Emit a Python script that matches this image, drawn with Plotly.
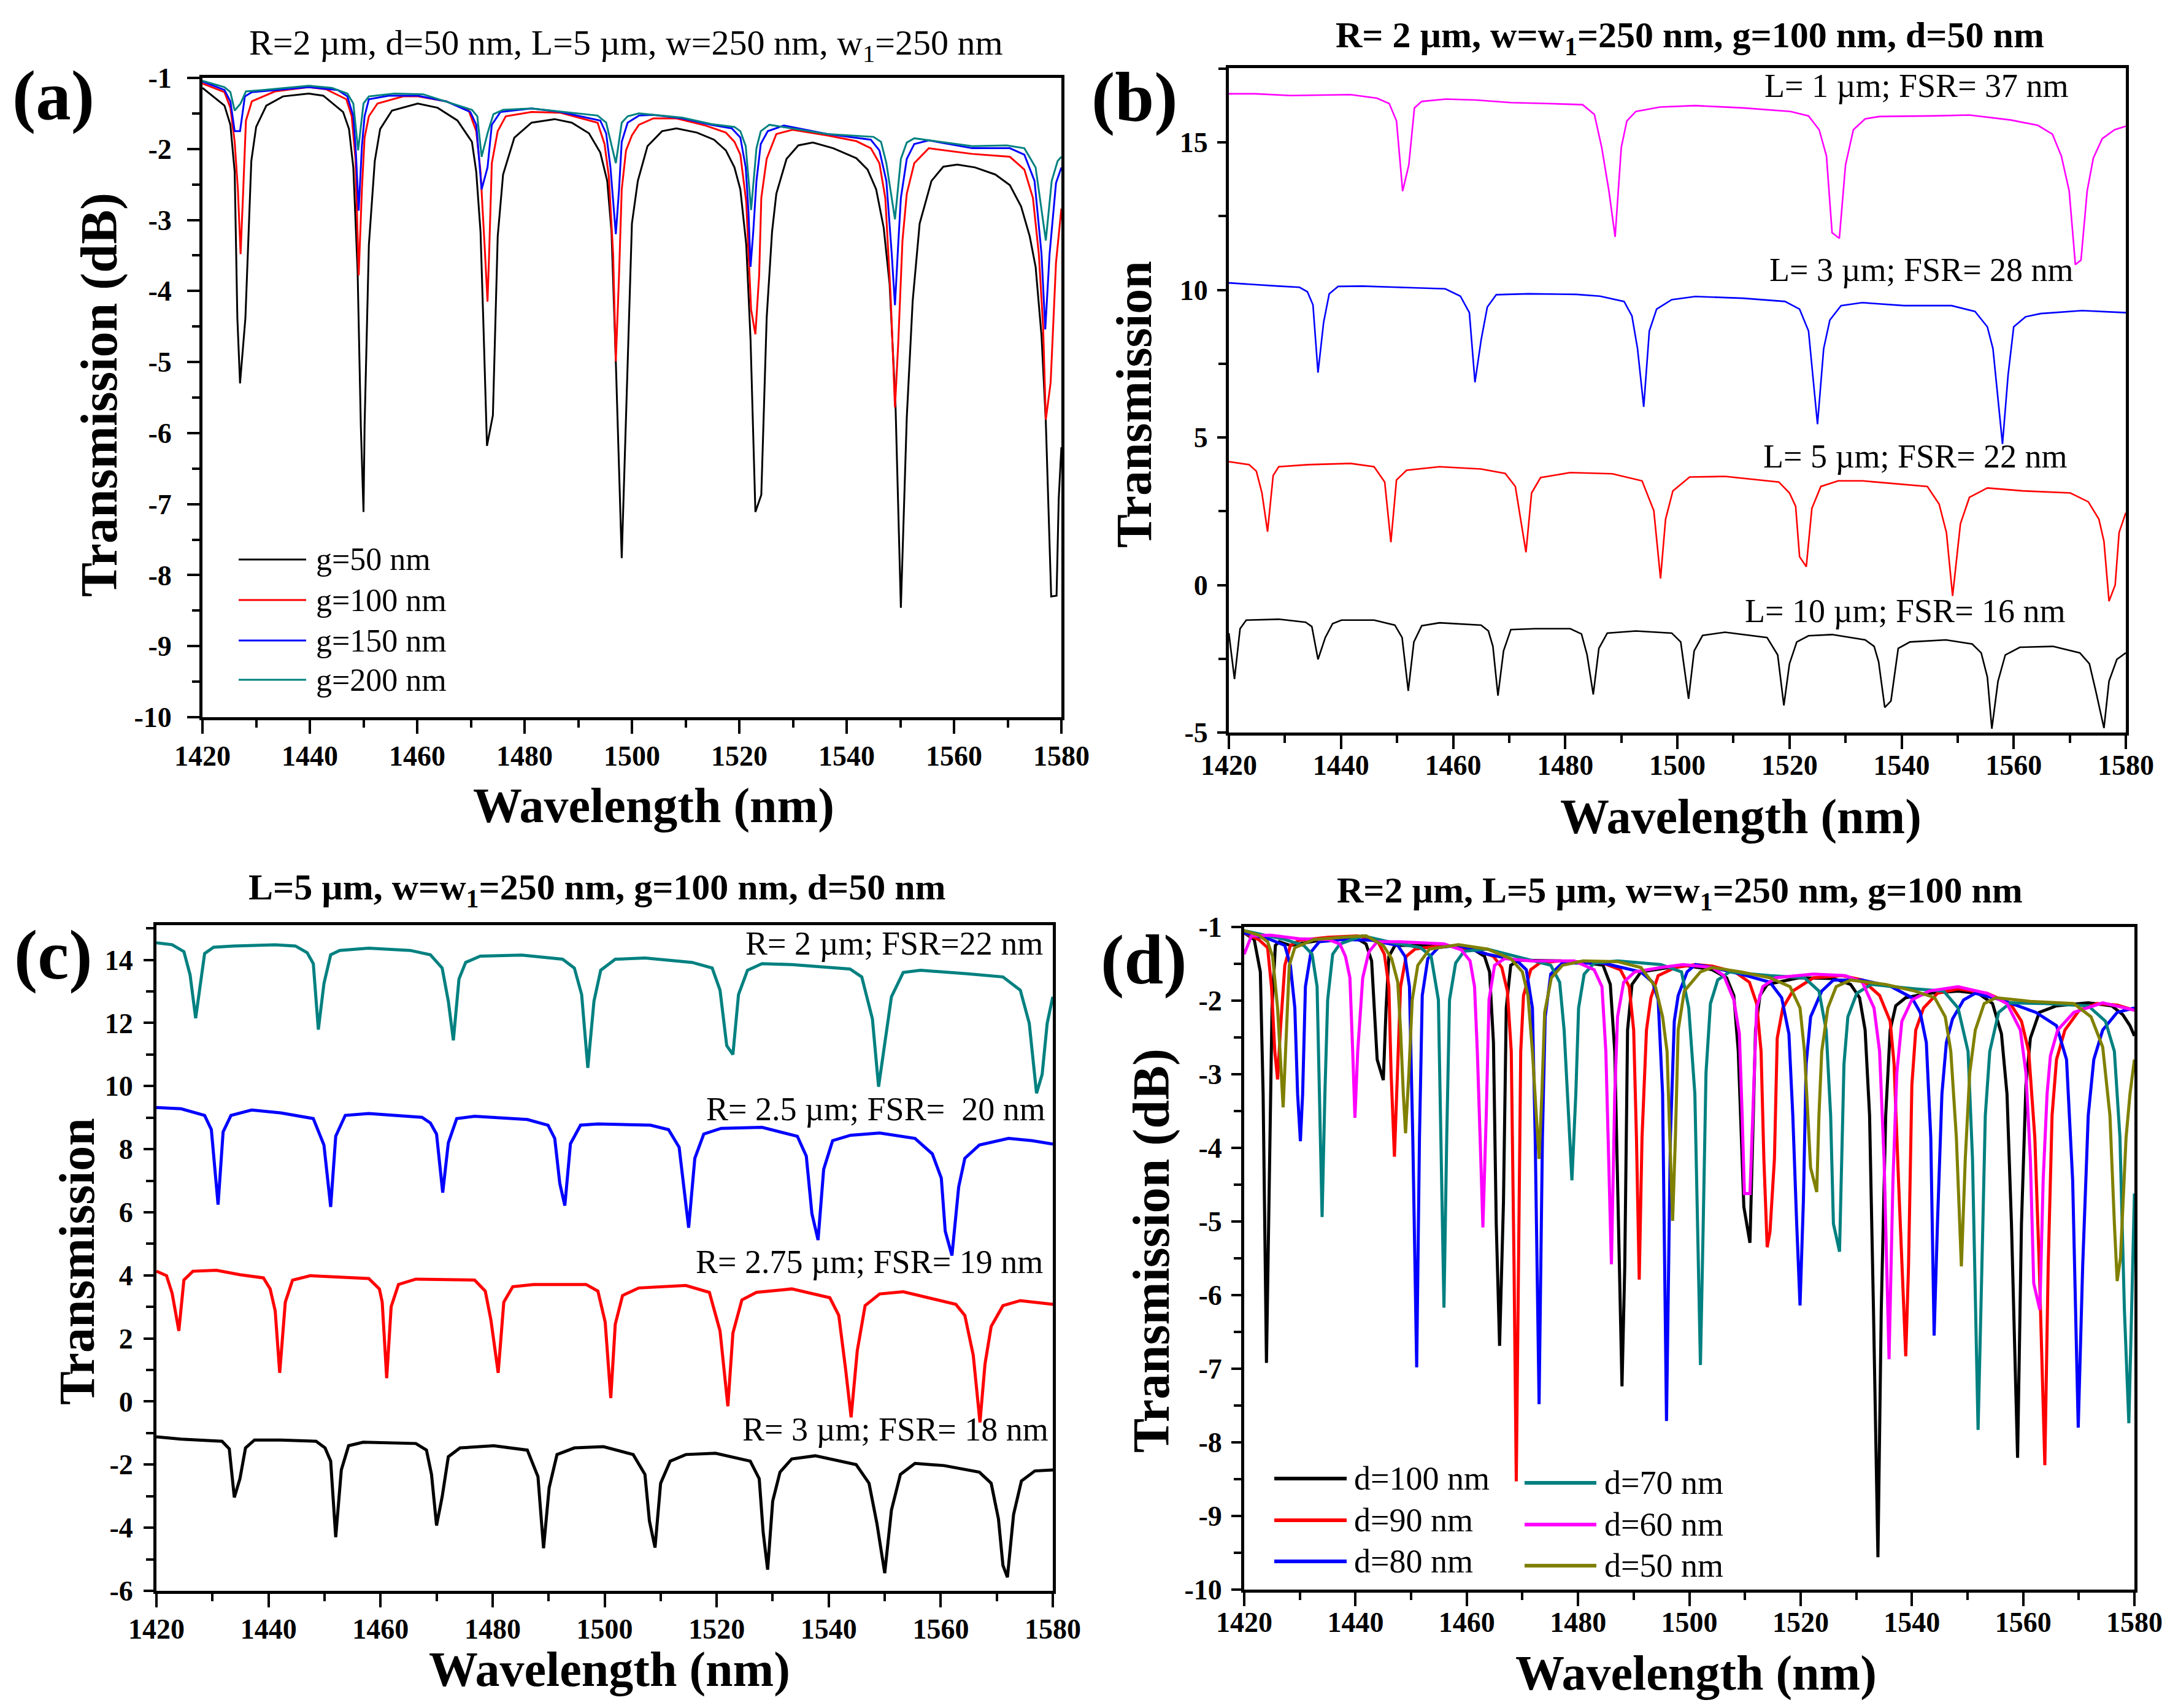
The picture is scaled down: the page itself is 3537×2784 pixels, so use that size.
import plotly.graph_objects as go

# ---------------- DATA ----------------
# Panel (a): transmission (dB) vs wavelength (nm) for gaps g
A_G50 = [(1420,-1.14),(1424.1,-1.39),(1425.2,-1.66),(1426.0,-2.32),(1426.5,-4.38),(1427.0,-5.30),(1428.0,-4.38),(1429.1,-2.17),(1430.0,-1.69),(1431.9,-1.39),(1435.0,-1.26),(1439.8,-1.22),(1442.5,-1.25),(1446.2,-1.48),(1447.3,-1.72),(1448.1,-2.26),(1448.9,-3.72),(1449.5,-5.90),(1450.0,-7.11),(1450.2,-5.90),(1451.0,-3.35),(1452.1,-2.17),(1453.1,-1.72),(1455.3,-1.46),(1460.1,-1.36),(1463.8,-1.42),(1467.5,-1.60),(1470.2,-1.90),(1471.0,-2.32),(1471.8,-3.17),(1472.3,-4.38),(1473.0,-6.18),(1474.1,-5.75),(1475.0,-3.23),(1476.0,-2.36),(1478.1,-1.84),(1481.3,-1.63),(1485.6,-1.58),(1488.8,-1.63),(1492.0,-1.78),(1494.1,-2.05),(1495.4,-2.45),(1496.2,-3.17),(1497.0,-4.99),(1498.1,-7.76),(1498.9,-5.84),(1500.0,-3.05),(1501.1,-2.45),(1502.9,-1.96),(1505.6,-1.75),(1508.3,-1.71),(1512.1,-1.77),(1515.3,-1.87),(1517.5,-2.02),(1519.1,-2.26),(1520.2,-2.57),(1521.3,-3.35),(1522.1,-4.69),(1523.0,-7.11),(1524.1,-6.87),(1525.1,-4.38),(1526.1,-3.17),(1526.9,-2.63),(1528.8,-2.14),(1531.0,-1.95),(1533.7,-1.91),(1537.5,-1.99),(1541.8,-2.13),(1543.9,-2.29),(1545.5,-2.57),(1546.9,-3.11),(1548.0,-3.90),(1549.1,-5.60),(1550.1,-8.46),(1551.2,-5.78),(1552.3,-4.14),(1553.6,-3.05),(1555.8,-2.45),(1558.0,-2.25),(1560.6,-2.22),(1563.9,-2.26),(1567.7,-2.36),(1570.4,-2.51),(1572.5,-2.81),(1574.1,-3.23),(1575.2,-3.66),(1576.3,-4.63),(1577.1,-5.84),(1578.1,-8.30),(1579.1,-8.29),(1579.5,-6.93),(1580.0,-6.20)]
A_G100 = [(1420,-1.08),(1424.1,-1.20),(1425.2,-1.42),(1426.0,-1.90),(1426.6,-2.57),(1427.1,-3.48),(1427.6,-2.57),(1428.1,-1.60),(1429.2,-1.33),(1433.5,-1.19),(1439.8,-1.13),(1443.0,-1.16),(1446.8,-1.30),(1447.8,-1.54),(1448.5,-2.14),(1449.1,-3.78),(1449.7,-2.57),(1450.2,-1.84),(1451.0,-1.54),(1452.6,-1.36),(1457.4,-1.26),(1460.1,-1.26),(1465.4,-1.33),(1469.6,-1.46),(1471.0,-1.75),(1471.8,-2.32),(1472.6,-3.42),(1473.1,-4.15),(1473.4,-3.48),(1473.9,-2.20),(1475.0,-1.75),(1476.5,-1.54),(1481.3,-1.48),(1486.7,-1.49),(1493.6,-1.63),(1494.9,-1.93),(1495.7,-2.39),(1496.5,-3.48),(1497.0,-4.99),(1497.6,-3.78),(1498.1,-2.57),(1498.9,-2.02),(1500.0,-1.81),(1501.3,-1.66),(1504.0,-1.57),(1508.3,-1.57),(1513.7,-1.67),(1517.5,-1.77),(1519.1,-1.90),(1520.2,-2.08),(1521.3,-2.75),(1522.2,-4.26),(1523.0,-4.61),(1523.7,-3.78),(1524.1,-2.69),(1525.1,-2.14),(1526.9,-1.79),(1529.9,-1.73),(1536.4,-1.81),(1541.8,-1.89),(1544.5,-1.99),(1546.1,-2.20),(1547.2,-2.69),(1548.2,-4.08),(1549.0,-5.64),(1549.6,-4.75),(1550.4,-3.29),(1551.2,-2.63),(1552.6,-2.20),(1555.3,-1.99),(1563.4,-2.07),(1570.4,-2.11),(1573.1,-2.29),(1574.7,-2.69),(1575.8,-3.48),(1576.6,-4.51),(1577.1,-5.81),(1578.0,-5.29),(1579.0,-3.60),(1580.0,-2.84)]
A_G150 = [(1420,-1.05),(1424.1,-1.17),(1425.2,-1.33),(1426.0,-1.75),(1427.0,-1.75),(1427.9,-1.26),(1429.2,-1.20),(1433.5,-1.17),(1439.8,-1.13),(1445.2,-1.17),(1447.0,-1.26),(1448.1,-1.54),(1448.6,-2.08),(1449.1,-2.87),(1449.7,-1.96),(1450.2,-1.54),(1451.0,-1.30),(1454.7,-1.25),(1460.1,-1.25),(1465.4,-1.33),(1469.9,-1.48),(1471.0,-1.66),(1471.5,-2.14),(1472.0,-2.57),(1473.1,-2.26),(1473.9,-1.66),(1475.5,-1.48),(1481.3,-1.43),(1486.7,-1.48),(1494.1,-1.60),(1495.2,-1.78),(1496.0,-2.26),(1497.0,-3.20),(1497.6,-2.57),(1498.1,-1.90),(1499.2,-1.63),(1501.3,-1.53),(1504.0,-1.52),(1509.4,-1.57),(1514.8,-1.66),(1518.6,-1.71),(1520.2,-1.84),(1521.2,-2.26),(1521.7,-2.87),(1522.1,-3.66),(1522.6,-3.17),(1523.2,-2.45),(1524.0,-1.93),(1525.3,-1.75),(1528.3,-1.67),(1536.4,-1.79),(1544.5,-1.87),(1546.1,-2.02),(1547.4,-2.45),(1548.4,-3.48),(1549.0,-4.20),(1549.6,-3.35),(1550.1,-2.69),(1551.2,-2.14),(1552.6,-1.93),(1555.3,-1.88),(1563.4,-1.99),(1570.4,-1.99),(1573.1,-2.08),(1575.0,-2.45),(1576.3,-3.48),(1577.0,-4.54),(1577.8,-3.48),(1579.0,-2.48),(1580.0,-2.26)]
A_G200 = [(1420,-1.04),(1424.1,-1.13),(1425.2,-1.20),(1426.0,-1.46),(1427.1,-1.36),(1428.1,-1.19),(1431.3,-1.17),(1439.8,-1.11),(1444.1,-1.14),(1447.0,-1.22),(1448.1,-1.36),(1449.0,-2.02),(1450.0,-1.36),(1451.0,-1.26),(1455.8,-1.22),(1461.1,-1.23),(1470.2,-1.45),(1471.2,-1.54),(1472.0,-2.11),(1473.1,-1.78),(1474.2,-1.51),(1476.0,-1.45),(1481.3,-1.43),(1493.6,-1.53),(1495.2,-1.63),(1497.0,-2.20),(1498.1,-1.63),(1499.2,-1.54),(1501.3,-1.50),(1509.4,-1.56),(1514.8,-1.65),(1519.1,-1.69),(1520.2,-1.75),(1521.2,-1.96),(1522.2,-2.86),(1523.2,-1.99),(1524.0,-1.75),(1525.6,-1.66),(1536.4,-1.79),(1545.0,-1.83),(1546.4,-1.90),(1547.4,-2.20),(1549.0,-2.99),(1550.1,-2.14),(1551.2,-1.91),(1552.6,-1.85),(1563.4,-1.96),(1569.8,-1.95),(1573.1,-1.99),(1575.2,-2.26),(1577.1,-3.29),(1578.2,-2.45),(1579.3,-2.17),(1580.0,-2.11)]
A_NAMES = ["g=50 nm", "g=100 nm", "g=150 nm", "g=200 nm"]

# Panel (b): transmission (offset) for L values
B_L1 = [(1420,16.65),(1424.7,16.65),(1431.0,16.59),(1441.7,16.62),(1446.4,16.50),(1448.6,16.32),(1449.9,15.73),(1451.0,13.35),(1452.1,14.24),(1453.1,16.17),(1454.4,16.39),(1458.7,16.47),(1464.0,16.44),(1470.3,16.35),(1476.7,16.32),(1483.1,16.28),(1485.2,15.95),(1486.5,14.84),(1487.8,13.35),(1488.9,11.80),(1490.0,14.84),(1491.0,15.73),(1492.6,16.05),(1496.9,16.20),(1503.2,16.25),(1511.7,16.17),(1520.2,16.05),(1523.4,15.90),(1525.3,15.43),(1526.6,14.54),(1527.6,11.94),(1528.9,11.75),(1530.0,14.24),(1531.4,15.43),(1533.5,15.80),(1536.1,15.88),(1545.7,15.90),(1552.1,15.93),(1559.5,15.76),(1564.3,15.58),(1566.9,15.28),(1568.5,14.54),(1569.9,13.35),(1571.0,10.86),(1572.0,11.01),(1573.1,13.35),(1574.2,14.47),(1575.8,15.13),(1578.0,15.43),(1580,15.55)]
B_L3 = [(1420,10.24),(1424.7,10.19),(1428.9,10.13),(1432.6,10.09),(1434.0,9.94),(1435.0,9.50),(1435.9,7.20),(1436.9,8.90),(1437.9,9.87),(1439.5,10.12),(1443.8,10.13),(1450.1,10.09),(1458.6,10.04),(1461.3,9.79),(1462.9,9.23),(1463.9,6.87),(1465.0,8.31),(1466.1,9.42),(1467.7,9.84),(1473.5,9.87),(1482.0,9.85),(1486.2,9.79),(1490.5,9.61),(1491.9,9.12),(1492.9,8.01),(1494.0,6.04),(1495.0,8.61),(1496.3,9.35),(1499.0,9.67),(1503.2,9.78),(1511.7,9.72),(1519.2,9.61),(1521.8,9.35),(1523.4,8.61),(1525.0,5.45),(1526.1,8.01),(1527.2,8.98),(1529.2,9.47),(1533.0,9.57),(1540.4,9.47),(1548.9,9.47),(1553.1,9.27),(1555.3,8.75),(1556.3,8.01),(1558.0,4.78),(1559.0,7.12),(1560.0,8.75),(1562.1,9.09),(1564.8,9.20),(1572.2,9.30),(1580,9.23)]
B_L5 = [(1420,4.18),(1423.6,4.08),(1424.9,3.86),(1425.9,3.12),(1426.9,1.81),(1427.9,3.71),(1428.9,4.01),(1434.2,4.08),(1441.7,4.12),(1445.9,4.01),(1447.8,3.49),(1448.9,1.45),(1449.9,3.56),(1451.7,3.89),(1457.6,4.01),(1465.0,3.93),(1469.3,3.78),(1471.1,3.34),(1473.0,1.11),(1474.0,3.12),(1475.6,3.64),(1480.9,3.81),(1488.4,3.77),(1493.7,3.53),(1495.8,2.52),(1497.0,0.22),(1497.9,2.23),(1499.2,3.19),(1502.2,3.66),(1508.5,3.68),(1518.1,3.49),(1520.0,3.12),(1521.1,2.67),(1521.8,0.96),(1523.0,0.62),(1524.0,2.60),(1525.6,3.34),(1528.7,3.53),(1533.0,3.53),(1544.6,3.34),(1546.7,2.74),(1548.0,1.78),(1549.1,-0.37),(1550.5,2.08),(1552.1,2.97),(1555.3,3.29),(1561.6,3.19),(1570.1,3.12),(1573.3,2.82),(1575.2,2.23),(1576.1,1.48),(1577.0,-0.55),(1578.1,0.00),(1578.8,1.78),(1580,2.45)]
B_L10 = [(1420,-1.63),(1421.0,-3.19),(1422.0,-1.48),(1423.1,-1.19),(1428.9,-1.16),(1433.7,-1.26),(1434.8,-1.41),(1435.9,-2.52),(1437.2,-1.78),(1438.5,-1.31),(1440.1,-1.19),(1445.9,-1.19),(1449.6,-1.36),(1450.9,-1.78),(1452.0,-3.59),(1453.0,-1.93),(1454.4,-1.38),(1457.6,-1.28),(1465.0,-1.36),(1466.3,-1.56),(1467.1,-2.08),(1468.0,-3.75),(1469.0,-2.23),(1470.3,-1.51),(1474.6,-1.48),(1480.9,-1.48),(1482.9,-1.66),(1483.9,-2.37),(1485.0,-3.71),(1486.0,-2.15),(1487.5,-1.63),(1492.6,-1.56),(1499.0,-1.63),(1500.6,-1.93),(1502.0,-3.86),(1503.0,-2.23),(1504.5,-1.71),(1508.5,-1.60),(1516.0,-1.78),(1517.9,-2.37),(1519.0,-4.08),(1520.0,-2.67),(1521.3,-1.93),(1523.4,-1.72),(1527.6,-1.68),(1533.5,-1.86),(1535.1,-2.08),(1535.9,-2.60),(1537.0,-4.15),(1538.1,-3.93),(1539.4,-2.15),(1541.5,-1.93),(1547.9,-1.86),(1552.6,-2.00),(1554.2,-2.30),(1555.3,-3.12),(1556.1,-4.87),(1557.2,-3.26),(1558.5,-2.37),(1561.1,-2.11),(1567.0,-2.08),(1571.8,-2.30),(1573.5,-2.67),(1574.6,-3.56),(1576.1,-4.85),(1577.0,-3.26),(1578.4,-2.52),(1580,-2.30)]
B_LABELS = ["L= 1 \u00b5m; FSR= 37 nm", "L= 3 \u00b5m; FSR= 28 nm", "L= 5 \u00b5m; FSR= 22 nm", "L= 10 \u00b5m; FSR= 16 nm"]

# Panel (c): transmission (offset) for ring radius R
C_R2 = [(1420,14.54),(1422.8,14.48),(1424.9,14.26),(1426.0,13.53),(1427.0,12.15),(1427.9,13.39),(1428.6,14.20),(1430.2,14.40),(1433.8,14.44),(1441.2,14.48),(1444.8,14.44),(1446.9,14.23),(1448.0,13.88),(1448.9,11.79),(1449.9,13.25),(1451.1,14.16),(1452.7,14.30),(1457.9,14.37),(1465.3,14.30),(1468.9,14.16),(1471.0,13.74),(1472.1,12.69),(1473.0,11.45),(1474.0,13.39),(1475.2,13.92),(1477.8,14.12),(1485.2,14.15),(1492.5,14.02),(1494.6,13.74),(1495.9,12.90),(1497.0,10.58),(1498.1,12.69),(1499.3,13.67),(1501.9,14.02),(1507.2,14.06),(1515.6,13.92),(1519.2,13.74),(1520.6,13.04),(1521.8,11.28),(1522.9,11.00),(1523.9,12.90),(1525.5,13.67),(1528.1,13.88),(1533.4,13.85),(1543.8,13.71),(1545.9,13.46),(1547.8,12.13),(1548.9,9.98),(1549.9,11.28),(1551.2,12.83),(1553.3,13.60),(1556.4,13.67),(1564.8,13.56),(1571.1,13.46),(1574.2,13.04),(1575.8,11.99),(1577.1,9.77),(1578.1,10.37),(1579.0,11.99),(1580,12.83)]
C_R25 = [(1420,9.32),(1424.4,9.28),(1428.6,9.07),(1429.8,8.62),(1431.0,6.24),(1431.9,8.55),(1433.3,9.07),(1437.0,9.24),(1442.2,9.15),(1448.0,8.97),(1449.9,8.13),(1451.1,6.17),(1452.0,8.41),(1453.7,9.07),(1457.9,9.13),(1467.4,9.01),(1468.9,8.83),(1470.0,8.48),(1471.1,6.62),(1472.1,8.20),(1473.6,8.97),(1476.8,9.04),(1486.2,8.94),(1489.9,8.76),(1491.1,8.34),(1492.0,6.91),(1492.9,6.21),(1493.9,8.17),(1495.7,8.76),(1498.8,8.80),(1508.2,8.76),(1511.4,8.62),(1513.3,8.06),(1514.1,6.80),(1515.0,5.51),(1516.1,7.71),(1517.7,8.48),(1520.8,8.66),(1528.1,8.69),(1534.4,8.41),(1536.0,7.78),(1537.0,5.96),(1538.1,5.12),(1539.1,7.36),(1540.7,8.27),(1543.9,8.44),(1549.1,8.51),(1555.4,8.34),(1558.5,7.85),(1560.1,7.08),(1560.8,5.40),(1562.0,4.63),(1563.2,6.80),(1564.3,7.71),(1566.9,8.13),(1572.1,8.34),(1576.3,8.27),(1580,8.16)]
C_R275 = [(1420,4.13),(1421.8,3.99),(1422.8,3.43),(1424.0,2.24),(1424.9,3.85),(1426.5,4.13),(1430.7,4.16),(1434.9,4.02),(1439.1,3.92),(1440.3,3.57),(1441.2,2.87),(1442.0,0.91),(1443.0,3.15),(1444.3,3.85),(1447.5,3.99),(1457.9,3.90),(1459.8,3.57),(1460.3,3.15),(1461.1,0.74),(1461.9,3.01),(1463.2,3.71),(1466.3,3.88),(1476.8,3.85),(1478.7,3.50),(1479.7,2.59),(1481.0,0.91),(1482.0,3.15),(1483.6,3.64),(1487.3,3.71),(1496.7,3.71),(1498.8,3.50),(1500.1,2.52),(1501.1,0.11),(1501.9,2.45),(1503.2,3.36),(1506.1,3.60),(1514.5,3.68),(1518.7,3.46),(1520.6,2.24),(1522.0,-0.15),(1522.9,2.17),(1524.5,3.22),(1527.1,3.46),(1533.4,3.57),(1540.2,3.29),(1541.8,2.73),(1543.0,1.05),(1544.0,-0.50),(1545.1,1.61),(1546.5,3.04),(1549.1,3.41),(1553.3,3.48),(1562.7,3.08),(1564.3,2.73),(1565.8,1.47),(1567.0,-0.66),(1567.9,1.19),(1569.0,2.38),(1571.1,3.04),(1574.2,3.20),(1580,3.08)]
C_R3 = [(1420,-1.12),(1424.4,-1.19),(1431.7,-1.26),(1433.0,-1.50),(1433.9,-3.04),(1434.9,-2.45),(1435.9,-1.47),(1437.5,-1.22),(1442.2,-1.22),(1448.5,-1.26),(1450.1,-1.47),(1451.1,-1.89),(1452.0,-4.30),(1453.0,-2.17),(1454.3,-1.40),(1456.9,-1.29),(1466.3,-1.33),(1468.2,-1.54),(1469.1,-2.31),(1470.0,-3.93),(1471.0,-3.02),(1472.1,-1.75),(1474.2,-1.47),(1480.2,-1.40),(1486.2,-1.54),(1488.1,-2.38),(1489.1,-4.65),(1490.1,-2.73),(1491.5,-1.68),(1494.6,-1.47),(1499.8,-1.43),(1505.1,-1.68),(1507.2,-2.31),(1508.0,-3.79),(1509.0,-4.63),(1510.0,-2.59),(1511.7,-1.89),(1514.5,-1.68),(1519.8,-1.64),(1526.0,-1.89),(1527.6,-2.45),(1528.3,-4.14),(1529.1,-5.33),(1530.0,-3.16),(1531.3,-2.24),(1533.4,-1.82),(1537.6,-1.72),(1544.9,-2.00),(1547.2,-2.59),(1548.6,-3.86),(1550.0,-5.44),(1551.2,-3.44),(1552.8,-2.31),(1555.4,-1.96),(1560.6,-2.03),(1566.9,-2.24),(1569.0,-2.59),(1570.3,-3.72),(1571.1,-5.19),(1571.9,-5.57),(1573.0,-3.58),(1574.4,-2.52),(1576.8,-2.20),(1580,-2.17)]
C_LABELS = ["R= 2 \u00b5m; FSR=22 nm", "R= 2.5 \u00b5m; FSR=\u00a0 20 nm", "R= 2.75 \u00b5m; FSR= 19 nm", "R= 3 \u00b5m; FSR= 18 nm"]

# Panel (d): transmission (dB) for distance d
D_D100 = [(1420.0,-1.08),(1421.8,-1.17),(1422.9,-1.61),(1423.4,-3.27),(1424.0,-6.92),(1424.5,-4.44),(1425.0,-2.10),(1425.6,-1.25),(1426.3,-1.20),(1428.3,-1.25),(1435.1,-1.16),(1440.3,-1.16),(1441.9,-1.23),(1442.9,-1.46),(1443.4,-2.10),(1443.9,-2.80),(1445.0,-3.08),(1445.5,-2.10),(1446.0,-1.40),(1447.1,-1.25),(1450.7,-1.25),(1455.9,-1.25),(1461.1,-1.30),(1463.2,-1.40),(1464.1,-1.61),(1464.8,-2.57),(1465.3,-5.03),(1465.9,-6.69),(1466.6,-4.73),(1467.1,-2.10),(1467.9,-1.52),(1469.4,-1.45),(1476.7,-1.46),(1481.9,-1.49),(1484.5,-1.52),(1485.8,-1.78),(1486.6,-2.69),(1487.4,-5.61),(1487.9,-7.24),(1488.4,-5.61),(1488.9,-2.40),(1489.7,-1.78),(1491.3,-1.61),(1498.9,-1.52),(1504.1,-1.58),(1506.7,-1.69),(1508.0,-1.93),(1508.8,-2.69),(1509.3,-3.86),(1509.8,-4.80),(1510.9,-5.29),(1511.4,-3.86),(1511.9,-2.40),(1512.7,-1.93),(1514.0,-1.78),(1519.7,-1.69),(1525.9,-1.70),(1529.0,-1.78),(1530.6,-1.96),(1531.6,-2.40),(1532.4,-3.56),(1533.1,-6.20),(1533.9,-9.56),(1534.5,-6.20),(1535.3,-3.56),(1536.1,-2.40),(1537.1,-2.07),(1538.9,-1.96),(1543.1,-1.90),(1548.3,-1.87),(1551.9,-1.90),(1554.5,-2.04),(1556.1,-2.45),(1557.1,-3.27),(1557.9,-5.03),(1559.0,-8.21),(1559.7,-5.03),(1560.5,-3.15),(1561.3,-2.51),(1562.9,-2.16),(1566.0,-2.07),(1571.7,-2.03),(1575.9,-2.07),(1577.9,-2.19),(1579.2,-2.34),(1580.0,-2.48)]
D_D90 = [(1420.0,-1.08),(1422.6,-1.17),(1424.2,-1.28),(1424.9,-1.81),(1425.5,-2.69),(1426.0,-3.07),(1426.5,-2.40),(1427.3,-1.52),(1428.3,-1.25),(1429.9,-1.18),(1435.1,-1.14),(1440.3,-1.12),(1443.9,-1.18),(1445.2,-1.37),(1446.0,-1.81),(1446.4,-2.98),(1447.0,-4.12),(1447.5,-2.98),(1448.1,-1.81),(1449.1,-1.40),(1450.7,-1.30),(1455.9,-1.25),(1461.1,-1.30),(1464.8,-1.40),(1466.3,-1.55),(1467.3,-1.87),(1468.0,-2.69),(1468.5,-5.61),(1468.9,-8.53),(1469.3,-5.61),(1469.7,-2.69),(1470.2,-1.93),(1471.5,-1.58),(1473.1,-1.49),(1476.7,-1.46),(1484.5,-1.49),(1487.6,-1.58),(1489.2,-1.81),(1490.0,-2.40),(1490.5,-3.86),(1491.0,-5.79),(1491.5,-3.86),(1492.3,-2.40),(1493.1,-1.96),(1494.4,-1.66),(1497.5,-1.55),(1501.1,-1.51),(1504.1,-1.53),(1508.2,-1.61),(1510.8,-1.75),(1512.1,-2.04),(1512.9,-2.69),(1513.4,-4.15),(1514.0,-5.35),(1514.5,-5.14),(1515.3,-4.15),(1515.8,-2.51),(1516.8,-2.10),(1518.6,-1.87),(1522.3,-1.69),(1527.5,-1.66),(1531.1,-1.72),(1534.2,-1.93),(1536.1,-2.28),(1536.8,-2.86),(1537.6,-4.44),(1538.4,-5.90),(1538.9,-6.83),(1539.4,-5.61),(1540.0,-3.15),(1540.7,-2.40),(1542.1,-2.10),(1544.6,-1.90),(1548.3,-1.84),(1553.5,-1.90),(1557.7,-2.04),(1559.7,-2.28),(1561.0,-2.69),(1562.1,-3.86),(1562.9,-5.61),(1563.9,-8.31),(1564.5,-5.61),(1565.2,-3.56),(1566.0,-2.80),(1567.5,-2.40),(1570.1,-2.13),(1573.3,-2.04),(1576.9,-2.06),(1580.0,-2.13)]
D_D80 = [(1420.0,-1.08),(1424.7,-1.17),(1427.3,-1.25),(1428.3,-1.52),(1429.1,-2.10),(1429.6,-3.27),(1430.1,-3.91),(1430.5,-3.27),(1431.0,-1.81),(1432.0,-1.34),(1433.5,-1.20),(1437.7,-1.17),(1442.9,-1.18),(1447.6,-1.25),(1448.9,-1.40),(1449.7,-1.81),(1450.3,-3.86),(1451.0,-6.98),(1451.5,-3.86),(1452.0,-1.93),(1453.0,-1.43),(1454.9,-1.28),(1458.5,-1.25),(1463.7,-1.37),(1468.9,-1.45),(1470.7,-1.58),(1471.8,-2.10),(1472.3,-3.86),(1473.0,-7.48),(1473.6,-3.86),(1474.1,-2.22),(1475.1,-1.64),(1477.2,-1.49),(1484.5,-1.49),(1491.3,-1.61),(1493.4,-1.75),(1494.4,-1.99),(1495.2,-3.27),(1495.9,-7.71),(1496.6,-3.86),(1497.3,-2.28),(1498.0,-1.93),(1499.6,-1.61),(1501.1,-1.51),(1504.1,-1.55),(1509.3,-1.64),(1514.5,-1.75),(1516.6,-1.96),(1517.9,-2.45),(1518.6,-3.56),(1519.3,-5.03),(1519.9,-6.14),(1520.5,-4.73),(1521.0,-2.86),(1521.8,-2.22),(1523.8,-1.87),(1525.9,-1.72),(1531.1,-1.72),(1536.3,-1.81),(1540.0,-1.96),(1541.5,-2.16),(1542.6,-2.57),(1543.4,-3.86),(1544.0,-6.55),(1544.6,-5.03),(1545.4,-3.27),(1546.2,-2.57),(1547.3,-2.25),(1549.3,-1.99),(1551.4,-1.90),(1556.1,-1.99),(1562.3,-2.16),(1566.0,-2.34),(1567.8,-2.80),(1568.9,-4.44),(1569.9,-7.80),(1570.7,-5.61),(1571.7,-3.56),(1572.7,-2.80),(1574.3,-2.40),(1576.9,-2.16),(1580.0,-2.10)]
D_D70 = [(1420.0,-1.05),(1427.3,-1.17),(1430.7,-1.25),(1432.2,-1.37),(1433.1,-1.81),(1433.5,-3.27),(1434.0,-4.94),(1434.5,-3.27),(1435.0,-1.99),(1435.9,-1.37),(1437.2,-1.23),(1441.3,-1.12),(1446.5,-1.21),(1451.7,-1.28),(1453.6,-1.40),(1454.9,-1.99),(1455.4,-3.86),(1455.9,-6.17),(1456.4,-3.86),(1456.9,-1.99),(1458.0,-1.49),(1459.5,-1.33),(1463.7,-1.30),(1471.5,-1.45),(1475.1,-1.52),(1476.7,-1.75),(1477.5,-2.40),(1478.3,-3.56),(1478.9,-4.44),(1479.6,-3.27),(1480.1,-2.10),(1481.1,-1.64),(1482.9,-1.49),(1487.1,-1.46),(1494.9,-1.51),(1498.6,-1.61),(1499.9,-2.10),(1501.0,-3.27),(1501.5,-5.32),(1502.0,-6.95),(1502.5,-5.03),(1503.0,-2.98),(1503.8,-2.04),(1505.1,-1.72),(1507.2,-1.61),(1514.5,-1.66),(1520.7,-1.69),(1523.3,-1.87),(1524.6,-2.40),(1525.4,-3.56),(1525.9,-5.03),(1527.0,-5.41),(1527.8,-2.86),(1528.5,-2.22),(1530.1,-1.90),(1532.7,-1.78),(1540.5,-1.84),(1545.7,-1.87),(1548.3,-2.10),(1550.1,-2.69),(1550.9,-4.15),(1551.4,-6.20),(1551.9,-7.83),(1552.5,-5.90),(1553.2,-3.56),(1554.0,-2.69),(1555.6,-2.16),(1557.7,-2.03),(1563.9,-2.04),(1571.7,-2.07),(1574.8,-2.28),(1576.4,-2.69),(1577.4,-3.86),(1578.2,-6.20),(1579.0,-7.74),(1579.5,-6.20),(1580.0,-4.62)]
D_D60 = [(1420.0,-1.37),(1421.3,-1.12),(1424.7,-1.11),(1429.9,-1.16),(1435.1,-1.17),(1437.2,-1.23),(1438.2,-1.40),(1439.0,-1.69),(1439.5,-2.69),(1439.9,-3.59),(1440.4,-2.69),(1441.3,-1.69),(1442.4,-1.34),(1443.9,-1.20),(1448.1,-1.20),(1455.9,-1.23),(1459.0,-1.31),(1460.6,-1.46),(1461.4,-1.81),(1461.9,-2.69),(1462.4,-3.86),(1462.9,-5.08),(1463.5,-3.56),(1464.0,-1.99),(1465.0,-1.52),(1466.8,-1.43),(1471.5,-1.46),(1479.3,-1.46),(1482.9,-1.58),(1484.3,-1.81),(1485.0,-2.69),(1485.6,-4.44),(1486.0,-5.58),(1486.6,-3.27),(1487.1,-2.22),(1488.2,-1.75),(1490.2,-1.61),(1494.9,-1.55),(1498.9,-1.51),(1504.1,-1.55),(1506.2,-1.66),(1508.0,-1.99),(1509.0,-2.45),(1509.5,-3.56),(1509.9,-4.62),(1510.9,-4.62),(1511.5,-3.27),(1512.1,-2.10),(1513.2,-1.81),(1515.5,-1.69),(1522.3,-1.64),(1528.0,-1.66),(1531.1,-1.75),(1533.2,-2.10),(1534.2,-2.69),(1535.0,-4.15),(1535.9,-6.87),(1536.6,-4.44),(1537.3,-2.98),(1538.2,-2.28),(1540.0,-1.99),(1543.1,-1.87),(1548.3,-1.81),(1553.5,-1.90),(1557.1,-2.04),(1559.5,-2.40),(1560.5,-2.98),(1561.3,-4.15),(1561.9,-5.84),(1563.0,-6.20),(1563.6,-4.44),(1564.3,-3.27),(1564.9,-2.75),(1566.2,-2.40),(1569.1,-2.16),(1574.3,-2.03),(1580.0,-2.13)]
D_D50 = [(1420.0,-1.05),(1422.6,-1.11),(1424.2,-1.20),(1425.1,-1.40),(1426.0,-2.10),(1426.6,-2.98),(1427.0,-3.45),(1427.6,-2.40),(1428.1,-1.52),(1429.1,-1.28),(1432.5,-1.17),(1437.7,-1.14),(1441.9,-1.12),(1445.0,-1.25),(1446.5,-1.43),(1447.6,-1.75),(1448.1,-2.40),(1448.6,-3.27),(1449.0,-3.80),(1449.6,-2.98),(1450.2,-1.99),(1451.2,-1.52),(1453.3,-1.30),(1458.5,-1.24),(1463.7,-1.30),(1467.9,-1.43),(1470.0,-1.61),(1471.0,-1.93),(1471.8,-2.69),(1472.5,-3.56),(1473.0,-4.15),(1473.5,-3.27),(1474.0,-2.16),(1475.2,-1.69),(1477.2,-1.52),(1480.9,-1.46),(1487.1,-1.47),(1491.3,-1.55),(1493.9,-1.81),(1495.2,-2.22),(1496.0,-2.69),(1496.5,-3.86),(1497.0,-4.99),(1497.5,-3.86),(1498.0,-2.40),(1499.1,-1.87),(1502.0,-1.61),(1504.1,-1.55),(1509.3,-1.61),(1514.5,-1.69),(1518.1,-1.81),(1519.9,-2.10),(1520.7,-2.69),(1521.8,-4.27),(1522.9,-4.60),(1523.3,-3.56),(1523.8,-2.69),(1524.9,-2.10),(1526.4,-1.81),(1529.0,-1.72),(1535.3,-1.78),(1540.5,-1.87),(1544.1,-1.96),(1546.0,-2.22),(1547.0,-2.69),(1548.0,-3.86),(1548.9,-5.61),(1549.6,-4.15),(1550.4,-2.98),(1551.4,-2.40),(1553.0,-2.04),(1555.1,-1.96),(1561.3,-2.01),(1569.1,-2.04),(1572.2,-2.22),(1574.3,-2.63),(1575.6,-3.56),(1576.4,-5.03),(1576.9,-5.81),(1577.5,-5.49),(1578.5,-3.86),(1579.2,-3.27),(1580.0,-2.80)]
D_NAMES = ["d=100 nm", "d=90 nm", "d=80 nm", "d=70 nm", "d=60 nm", "d=50 nm"]

# Tick labels
X_RANGE = [1420, 1580]
A_YTICKS = [-1, -2, -3, -4, -5, -6, -7, -8, -9, -10]
B_YTICKS = [15, 10, 5, 0, -5]
C_YTICKS = [14, 12, 10, 8, 6, 4, 2, 0, -2, -4, -6]
D_YTICKS = [-1, -2, -3, -4, -5, -6, -7, -8, -9, -10]

# ---------------- STYLE / LAYOUT ----------------
W, H = 3537, 2784
FONT = "Liberation Serif"
BLACK, RED, BLUE, TEAL, MAGENTA, OLIVE = "#000000", "#FF0000", "#0000FF", "#008080", "#FF00FF", "#808000"


def px(x):
    return x / W


def py(y):
    return 1 - y / H


fig = go.Figure()


def add_curve(data, xa, ya, color, width):
    xs = [p[0] for p in data]
    ys = [p[1] for p in data]
    fig.add_trace(go.Scatter(x=xs, y=ys, mode="lines", xaxis=xa, yaxis=ya,
                             line=dict(color=color, width=width), showlegend=False,
                             hoverinfo="skip"))


for data, col in zip([A_G50, A_G100, A_G150, A_G200], [BLACK, RED, BLUE, TEAL]):
    add_curve(data, "x", "y", col, 3)
for data, col in zip([B_L1, B_L3, B_L5, B_L10], [MAGENTA, BLUE, RED, BLACK]):
    add_curve(data, "x2", "y2", col, 2.6)
for data, col in zip([C_R2, C_R25, C_R275, C_R3], [TEAL, BLUE, RED, BLACK]):
    add_curve(data, "x3", "y3", col, 5)
D_COLORS = [BLACK, RED, BLUE, TEAL, MAGENTA, OLIVE]
for data, col in zip([D_D100, D_D90, D_D80, D_D70, D_D60, D_D50], D_COLORS):
    add_curve(data, "x4", "y4", col, 5)

TICKFONT = dict(family=FONT, size=46, color="black", weight="bold")


def xcfg(domain, anchor, standoff):
    return dict(domain=domain, anchor=anchor, range=X_RANGE, tickmode="linear",
                tick0=1420, dtick=20, ticks="outside", ticklen=22, tickwidth=4,
                tickcolor="black", automargin=False,
                minor=dict(ticks="outside", ticklen=12, tickwidth=4, tickcolor="black",
                           tickmode="linear", tick0=1420, dtick=10),
                showline=True, linewidth=5, linecolor="black", mirror=True,
                showgrid=False, zeroline=False, tickfont=TICKFONT,
                ticklabelstandoff=standoff)


def ycfg(domain, anchor, rng, ticks, minor_dtick, ticklen, standoff):
    return dict(domain=domain, anchor=anchor, range=rng, tickmode="array",
                tickvals=ticks, ticktext=[str(t) for t in ticks], automargin=False,
                ticks="outside", ticklen=ticklen, tickwidth=4, tickcolor="black",
                minor=dict(ticks="outside", ticklen=12, tickwidth=4, tickcolor="black",
                           tickmode="linear", tick0=0, dtick=minor_dtick),
                showline=True, linewidth=5, linecolor="black", mirror=True,
                showgrid=False, zeroline=False, tickfont=TICKFONT,
                ticklabelstandoff=standoff)


fig.update_layout(
    template="none",
    width=W, height=H, margin=dict(l=0, r=0, t=0, b=0, pad=0, autoexpand=False),
    paper_bgcolor="white", plot_bgcolor="white", showlegend=False,
    font=dict(family=FONT, color="black"),
    xaxis=xcfg([px(322), px(1722)], "y", -3),
    yaxis=ycfg([py(1161), py(119)], "x", [-10, -1], A_YTICKS, 0.5, 20, 16),
    xaxis2=xcfg([px(1995), px(3457)], "y2", -13),
    yaxis2=ycfg([py(1186), py(103)], "x2", [-5, 17.52], B_YTICKS, 2.5, 14, 6),
    xaxis3=xcfg([px(247), px(1708)], "y3", -4),
    yaxis3=ycfg([py(2585), py(1500)], "x3", [-6, 15.1], C_YTICKS, 1, 16, 8),
    xaxis4=xcfg([px(2020), px(3471)], "y4", -13),
    yaxis4=ycfg([py(2583), py(1503)], "x4", [-10, -1], D_YTICKS, 0.5, 16, 6),
)

ann = []
shapes = []


def text(x, y, s, size, bold=False, xanchor="center", angle=0):
    ann.append(dict(x=px(x), y=py(y), xref="paper", yref="paper", text=s, showarrow=False,
                    xanchor=xanchor, yanchor="middle", textangle=angle,
                    font=dict(family=FONT, size=size, color="black",
                              weight="bold" if bold else "normal")))


# Titles
text(1012, 65, "R=2 \u00b5m, d=50 nm, L=5 \u00b5m, w=250 nm, w<sub>1</sub>=250 nm", 58)
text(2746, 53, "R= 2 \u00b5m, w=w<sub>1</sub>=250 nm, g=100 nm, d=50 nm", 60, bold=True)
text(965, 1442, "L=5 \u00b5m, w=w<sub>1</sub>=250 nm, g=100 nm, d=50 nm", 60, bold=True)
text(2730, 1447, "R=2 \u00b5m, L=5 \u00b5m, w=w<sub>1</sub>=250 nm, g=100 nm", 60, bold=True)

# Panel labels
for lab, (x, y) in zip(["(a)", "(b)", "(c)", "(d)"], [(79, 148), (1841, 151), (79, 1548), (1856, 1556)]):
    text(x, y, lab, 115, bold=True)

# Axis titles
for (x, y) in [(1057, 1305), (2829, 1323), (985, 2713), (2756, 2719)]:
    text(x, y, "Wavelength (nm)", 80, bold=True)
text(154, 636, "Transmission (dB)", 84, bold=True, angle=-90)
text(1840, 651, "Transmission", 82, bold=True, angle=-90)
text(117, 2048, "Transmission", 82, bold=True, angle=-90)
text(1869, 2031, "Transmission (dB)", 84, bold=True, angle=-90)

# In-plot labels
for lab, (x, y) in zip(B_LABELS, [(3366, 132), (3374, 432), (3364, 736), (3361, 988)]):
    text(x, y, lab, 54, xanchor="right")
for lab, (x, y) in zip(C_LABELS, [(1694, 1530), (1698, 1800), (1694, 2049), (1703, 2322)]):
    text(x, y, lab, 54, xanchor="right")

# Legend (a)
for name, col, y in zip(A_NAMES, [BLACK, RED, BLUE, TEAL], [904, 970, 1036, 1100]):
    shapes.append(dict(type="line", xref="paper", yref="paper", x0=px(381), x1=px(491),
                       y0=py(y), y1=py(y), line=dict(color=col, width=3)))
    text(505, y, name, 52, xanchor="left")

# Legend (d): two columns
d_pos = [(2069, 2187, 2197, 2402), (2069, 2187, 2197, 2470), (2069, 2187, 2197, 2537),
         (2477, 2594, 2605, 2409), (2477, 2594, 2605, 2477), (2477, 2594, 2605, 2544)]
for name, col, (x0, x1, xt, y) in zip(D_NAMES, D_COLORS, d_pos):
    shapes.append(dict(type="line", xref="paper", yref="paper", x0=px(x0), x1=px(x1),
                       y0=py(y), y1=py(y), line=dict(color=col, width=6)))
    text(xt, y, name, 54, xanchor="left")

fig.update_layout(annotations=ann, shapes=shapes)
fig.write_html("out.html")
